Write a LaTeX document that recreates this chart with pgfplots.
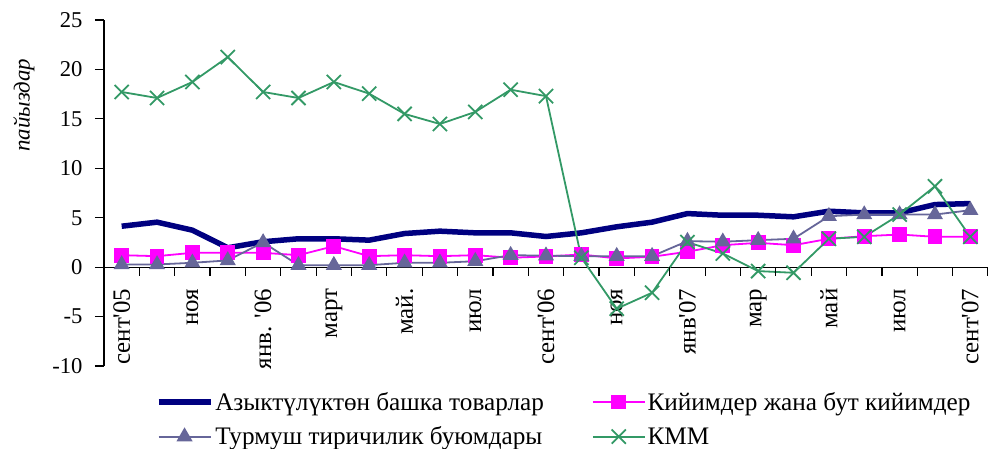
\documentclass[border=0pt]{standalone}
\usepackage{fontspec}
\setmainfont{Liberation Serif}
\usepackage{pgfplots}
\pgfplotsset{compat=1.18}
\definecolor{cnavy}{RGB}{0,0,128}
\definecolor{cmag}{RGB}{255,0,255}
\definecolor{cslate}{RGB}{102,102,153}
\definecolor{cgreen}{RGB}{51,153,102}
\newcommand{\ap}{\textquotesingle}
\begin{document}
\begin{tikzpicture}
\begin{axis}[
 scale only axis, width=884bp, height=346bp,
 xmin=-0.5, xmax=24.5, ymin=-10, ymax=25,
 axis x line=middle, axis y line=left,
 axis line style={-, black, line width=1.2bp},
 font=\fontsize{25}{29}\selectfont,
 xtick=\empty,
 extra x ticks={0,2,...,24},
 extra x tick labels={сент\ap05, ноя, янв. \ap06, март, май., июл, сент\ap06, ноя, янв\ap07, мар, май, июл, сент\ap07},
 extra x tick style={grid=none, major tick length=0pt},
 xticklabel style={rotate=90, anchor=east, xshift=-18bp, font=\fontsize{25}{29}\selectfont},
 ytick={-10,-5,...,25},
 yticklabel style={xshift=-9bp, font=\fontsize{22.7}{26}\selectfont},
 tick style={black, line width=1.2bp},
 major tick length=9bp, tick align=outside,
 /pgf/number format/assume math mode=true,
 ylabel={пайыздар},
 every axis y label/.style={at={([xshift=-80bp]rel axis cs:0,0.754)}, rotate=90, anchor=center, font=\itshape\fontsize{23}{27}\selectfont},
 legend style={at={(rel axis cs:0.055,-0.064)}, anchor=north west, draw=none, fill=none, legend columns=2, font=\fontsize{25.3}{29}\selectfont, /tikz/every even column/.append style={column sep=46bp}, row sep=11bp},
 legend cell align=left,
 legend image code/.code={\draw[mark repeat=2,mark phase=2,#1] plot coordinates {(0bp,0bp) (26bp,0bp) (52bp,0bp)};},
 clip=false,
]
\addplot[cnavy, line width=5.5bp, mark=none] coordinates {
(0,4.14) (1,4.55) (2,3.74) (3,1.96) (4,2.57) (5,2.87) (6,2.87) (7,2.73) (8,3.40) (9,3.64) (10,3.47) (11,3.47) (12,3.10)
(13,3.47) (14,4.08) (15,4.55) (16,5.42) (17,5.25) (18,5.25) (19,5.09) (20,5.66) (21,5.49) (22,5.49) (23,6.33) (24,6.43)};
\addlegendentry{Азыктүлүктөн башка товарлар}
\addplot[cmag, line width=1.8bp, mark=square*, mark size=6.5bp] coordinates {
(0,1.21) (1,1.11) (2,1.45) (3,1.45) (4,1.45) (5,1.21) (6,2.12) (7,1.11) (8,1.21) (9,1.11) (10,1.21) (11,0.95) (12,1.08)
(13,1.28) (14,0.88) (15,1.05) (16,1.56) (17,2.22) (18,2.46) (19,2.22) (20,2.87) (21,3.13) (22,3.30) (23,3.07) (24,3.07)};
\addlegendentry{Кийимдер жана бут кийимдер}
\addplot[cslate, line width=1.8bp, mark=triangle*, mark size=7.5bp] coordinates {
(0,0.27) (1,0.27) (2,0.44) (3,0.68) (4,2.5) (5,0.2) (6,0.2) (7,0.2) (8,0.44) (9,0.44) (10,0.6) (11,1.21) (12,1.16)
(13,1.11) (14,1.11) (15,1.11) (16,2.63) (17,2.57) (18,2.73) (19,2.87) (20,5.15) (21,5.32) (22,5.32) (23,5.32) (24,5.76)};
\addlegendentry{Турмуш тиричилик буюмдары}
\addplot[cgreen, line width=1.8bp, mark=x, mark size=10bp] coordinates {
(0,17.72) (1,17.11) (2,18.73) (3,21.25) (4,17.72) (5,17.11) (6,18.73) (7,17.55) (8,15.5) (9,14.48) (10,15.7) (11,17.95) (12,17.3)
(13,0.95) (14,-4.2) (15,-2.59) (16,2.53) (17,1.38) (18,-0.4) (19,-0.57) (20,2.87) (21,3.07) (22,5.32) (23,8.18) (24,3.07)};
\addlegendentry{КММ}
% x-axis tick marks between categories, pointing down from the axis line
\pgfplotsinvokeforeach{-0.5,0.5,1.5,2.5,3.5,4.5,5.5,6.5,7.5,8.5,9.5,10.5,11.5,12.5,13.5,14.5,15.5,16.5,17.5,18.5,19.5,20.5,21.5,22.5,23.5,24.5}{
  \draw[black, line width=1.2bp] (axis cs:#1,0) -- ([yshift=-9bp]axis cs:#1,0);
}
\end{axis}
\pgfresetboundingbox
\path ([shift={(-104bp,-83bp)}]current axis.south west) rectangle ++(988bp,449bp);
\end{tikzpicture}
\end{document}
